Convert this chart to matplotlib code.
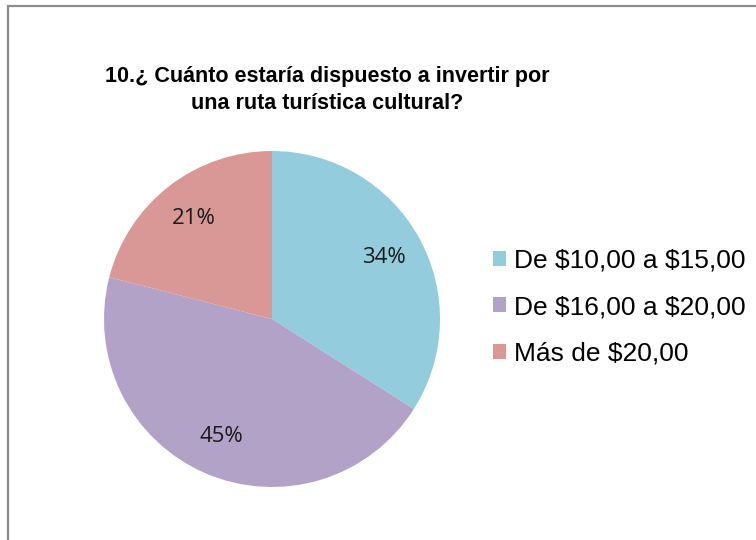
import matplotlib
matplotlib.use('Agg')
import matplotlib.pyplot as plt
from matplotlib.patches import Rectangle, Patch

categorias = ['De \\$10,00 a \\$15,00', 'De \\$16,00 a \\$20,00', 'Más de \\$20,00']
porcentajes = [34, 45, 21]
colores = ['#93CDDD', '#B3A2C7', '#D99795']
titulo = '10.¿ Cuánto estaría dispuesto a invertir por\nuna ruta turística cultural?'

W, H = 756, 540
fig = plt.figure(figsize=(W / 100, H / 100), dpi=100, facecolor='white')

# marco gris (cortado a la derecha y abajo)
fig.patches.append(Rectangle((8 / W, -0.05), 1.2, 1 - 6 / H + 0.05, transform=fig.transFigure,
                             fill=False, edgecolor='#8C8C8C', lw=1.6))

ax = fig.add_axes([104 / W, (H - 487) / H, 336 / W, 336 / H])
ax.pie(porcentajes, colors=colores, startangle=90, counterclock=False,
       autopct='%1.0f%%', pctdistance=0.76, radius=1.0,
       wedgeprops=dict(linewidth=0),
       textprops=dict(fontsize=16, color='#1A1A1A', family=['Open Sans', 'DejaVu Sans']))
ax.set_xlim(-1, 1); ax.set_ylim(-1, 1)
ax.set_aspect('equal')
ax.axis('off')

fig.text(327 / W, 1 - 90 / H, titulo, ha='center', va='center', fontsize=15.5, fontweight='bold',
         family=['Liberation Sans', 'DejaVu Sans'], linespacing=1.38)

handles = [Patch(facecolor=c, edgecolor='none', label=l) for c, l in zip(colores, categorias)]
fig.legend(handles=handles, loc='center left', bbox_to_anchor=(493 / W, 1 - 307 / H), frameon=False,
           prop=dict(family='Liberation Sans', size=19), handlelength=0.5, handleheight=0.5,
           handletextpad=0.3, labelspacing=0.85, borderpad=0, borderaxespad=0)

fig.savefig('out.png', dpi=100, facecolor='white')
